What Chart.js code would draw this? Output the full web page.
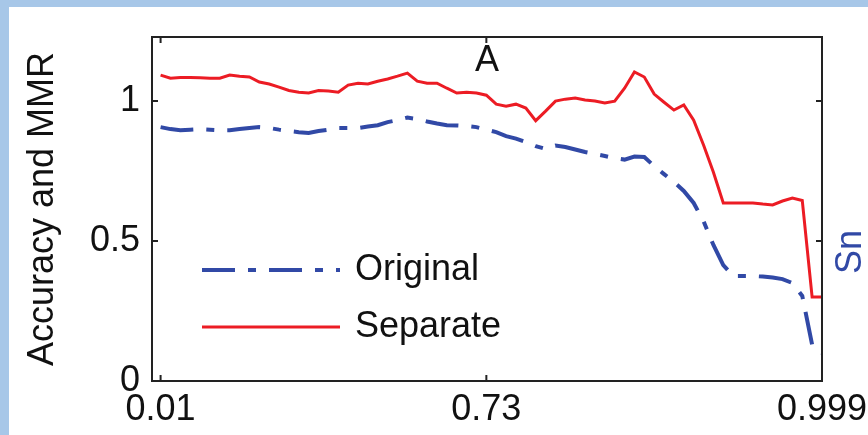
<!DOCTYPE html>
<html>
<head>
<meta charset="utf-8">
<script src="https://cdn.jsdelivr.net/npm/chart.js@4.4.1/dist/chart.umd.min.js"></script>
<style>
  html, body { margin: 0; padding: 0; }
  body { width: 868px; height: 435px; background: #a7c7e8; overflow: hidden; position: relative; }
  #panel { position: absolute; left: 9px; top: 7px; width: 859px; height: 428px; background: #fff; }
  canvas { display: block; }
</style>
</head>
<body>
<div id="panel"><canvas id="chart" width="859" height="428"></canvas></div>
<script>
// threshold positions (sample index) where the x labels sit
const xTickAt = [0, 33, 67];
const xTickLabels = ['0.01', '0.73', '0.999'];
const yTicks = [0, 0.5, 1];

// Sn -> accuracy/MMR, one value per threshold step
const original = [
    0.907, 0.900, 0.896, 0.898, 0.900, 0.898, 0.896, 0.896, 0.900, 0.904,
    0.907, 0.904, 0.898, 0.893, 0.889, 0.886, 0.893, 0.898, 0.904, 0.904,
    0.904, 0.909, 0.914, 0.925, 0.932, 0.941, 0.936, 0.927, 0.920, 0.914,
    0.913, 0.911, 0.907, 0.898, 0.889, 0.875, 0.866, 0.854, 0.839, 0.829,
    0.841, 0.836, 0.827, 0.818, 0.811, 0.804, 0.796, 0.791, 0.802, 0.800,
    0.768, 0.739, 0.711, 0.679, 0.636, 0.571, 0.486, 0.414, 0.375, 0.375,
    0.375, 0.373, 0.370, 0.364, 0.350, 0.304, 0.130, 0.100
];
const separate = [
    1.093, 1.082, 1.084, 1.084, 1.083, 1.082, 1.082, 1.093, 1.089, 1.086,
    1.068, 1.061, 1.050, 1.038, 1.032, 1.029, 1.038, 1.036, 1.032, 1.057,
    1.064, 1.061, 1.071, 1.079, 1.089, 1.100, 1.071, 1.064, 1.064, 1.046,
    1.029, 1.032, 1.029, 1.021, 0.989, 0.982, 0.989, 0.975, 0.930, 0.964,
    1.000, 1.007, 1.011, 1.004, 1.000, 0.993, 1.000, 1.046, 1.104, 1.086,
    1.025, 0.996, 0.968, 0.986, 0.932, 0.843, 0.746, 0.636, 0.636, 0.636,
    0.636, 0.632, 0.629, 0.643, 0.654, 0.645, 0.300, 0.300
];

const FONT = 'Liberation Sans, Arial, Helvetica, sans-serif';
const BLUE = '#3149a6';
const RED = '#ec1c24';
const INK = '#111';

const toPoints = arr => arr.map((v, i) => ({ x: i, y: v }));

// box around the plot with MATLAB style inward ticks
const framePlugin = {
    id: 'frame',
    afterDatasetsDraw(chart) {
        const { ctx, chartArea: a, scales } = chart;
        const len = 6;
        ctx.save();
        ctx.strokeStyle = '#222';
        ctx.lineWidth = 2;
        ctx.strokeRect(a.left, a.top, a.right - a.left, a.bottom - a.top);
        ctx.beginPath();
        scales.x.ticks.forEach(t => {
            const px = scales.x.getPixelForValue(t.value);
            ctx.moveTo(px, a.bottom); ctx.lineTo(px, a.bottom - len);
            ctx.moveTo(px, a.top); ctx.lineTo(px, a.top + len);
        });
        scales.y.ticks.forEach(t => {
            const py = scales.y.getPixelForValue(t.value);
            ctx.moveTo(a.left, py); ctx.lineTo(a.left + len, py);
            ctx.moveTo(a.right, py); ctx.lineTo(a.right - len, py);
        });
        ctx.stroke();
        ctx.restore();
    }
};

// panel letter, right-hand "Sn" label and the legend inside the plot
const notesPlugin = {
    id: 'notes',
    afterDraw(chart, args, opts) {
        const { ctx, chartArea: a } = chart;
        ctx.save();
        ctx.font = `36px ${FONT}`;
        ctx.fillStyle = INK;
        ctx.textAlign = 'center';
        ctx.textBaseline = 'alphabetic';
        ctx.fillText(opts.panel, (a.left + a.right) / 2, a.top + 34);

        ctx.save();
        ctx.translate(852, 245);
        ctx.rotate(-Math.PI / 2);
        ctx.fillStyle = BLUE;
        ctx.fillText(opts.rightLabel, 0, 0);
        ctx.restore();

        chart.data.datasets.forEach((ds, i) => {
            const y = opts.legendY[i];
            ctx.save();
            ctx.strokeStyle = ds.borderColor;
            ctx.lineWidth = ds.borderWidth;
            ctx.setLineDash(ds.borderDash || []);
            ctx.beginPath();
            ctx.moveTo(opts.legendX, y);
            ctx.lineTo(opts.legendX + opts.sampleLen, y);
            ctx.stroke();
            ctx.restore();
            ctx.fillStyle = INK;
            ctx.textAlign = 'left';
            ctx.textBaseline = 'middle';
            ctx.fillText(ds.label, opts.legendX + opts.sampleLen + 15, y);
        });
        ctx.restore();
    }
};

new Chart(document.getElementById('chart'), {
    type: 'line',
    data: {
        datasets: [
            {
                label: 'Original',
                data: toPoints(original),
                borderColor: BLUE,
                borderWidth: 4,
                borderDash: [33, 13, 8, 13],
                pointRadius: 0,
                tension: 0,
                fill: false
            },
            {
                label: 'Separate',
                data: toPoints(separate),
                borderColor: RED,
                borderWidth: 3,
                pointRadius: 0,
                tension: 0,
                fill: false
            }
        ]
    },
    options: {
        responsive: false,
        animation: false,
        devicePixelRatio: 1,
        layout: { padding: { left: 0, right: 46, top: 30, bottom: 0 } },
        scales: {
            x: {
                type: 'linear',
                min: -0.87,
                max: 67,
                grid: { display: false, drawTicks: false },
                border: { display: false },
                afterBuildTicks: s => { s.ticks = xTickAt.map(v => ({ value: v })); },
                afterFit: s => { s.height = 54; s.paddingLeft = 0; s.paddingRight = 0; },
                ticks: {
                    autoSkip: false,
                    maxRotation: 0,
                    padding: 7,
                    color: INK,
                    font: { family: FONT, size: 36 },
                    callback: (v, i) => xTickLabels[i]
                }
            },
            y: {
                min: 0,
                max: 1.229,
                grid: { display: false, drawTicks: false },
                border: { display: false },
                afterBuildTicks: s => { s.ticks = yTicks.map(v => ({ value: v })); },
                afterFit: s => { s.width = 143; s.paddingTop = 0; s.paddingBottom = 0; },
                ticks: {
                    padding: 12,
                    color: INK,
                    font: { family: FONT, size: 36 },
                    callback: v => String(v)
                },
                title: {
                    display: true,
                    text: 'Accuracy and MMR',
                    color: INK,
                    font: { family: FONT, size: 36 },
                    padding: { top: 12, bottom: 0 }
                }
            }
        },
        plugins: {
            legend: { display: false },
            tooltip: { enabled: false },
            notes: {
                panel: 'A',
                rightLabel: 'Sn',
                legendX: 193,
                sampleLen: 138,
                legendY: [263, 320]
            }
        }
    },
    plugins: [framePlugin, notesPlugin]
});
</script>
</body>
</html>
